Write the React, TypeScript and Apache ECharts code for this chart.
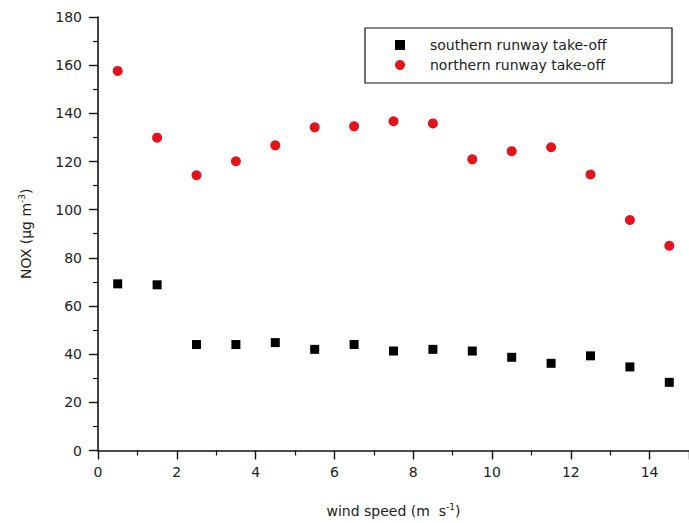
import React, { useEffect, useRef } from "react";
import * as echarts from "echarts";

const windSpeed = [0.5, 1.5, 2.5, 3.5, 4.5, 5.5, 6.5, 7.5, 8.5, 9.5, 10.5, 11.5, 12.5, 13.5, 14.5];
const southern = [69.2, 68.8, 44, 44, 44.8, 42, 44, 41.3, 42, 41.3, 38.7, 36.2, 39.3, 34.7, 28.3];
const northern = [157.6, 129.9, 114.3, 120.1, 126.7, 134.2, 134.6, 136.7, 135.8, 120.9, 124.3, 125.9, 114.6, 95.7, 85];
const seriesNames = ["southern runway take-off", "northern runway take-off"];

const FONT = "DejaVu Sans";

export default function App() {
  const ref = useRef<HTMLDivElement>(null);
  useEffect(() => {
    if (!ref.current) return;
    const chart = echarts.init(ref.current, null, { renderer: "svg" });
    const axisCommon = {
      axisLine: { show: true, lineStyle: { color: "#111", width: 1.6 } },
      axisTick: { show: true, length: 9, lineStyle: { color: "#111", width: 1.4 } },
      minorTick: { show: true, splitNumber: 2, length: 5, lineStyle: { color: "#111", width: 1.2 } },
      splitLine: { show: false },
      axisLabel: { color: "#222", fontFamily: FONT, fontSize: 14 },
      nameTextStyle: {
        color: "#222",
        fontFamily: FONT,
        fontSize: 14,
        rich: {
          sup: { fontSize: 9, verticalAlign: "top", padding: [0, 0, 8, 0], fontFamily: FONT, color: "#222" },
        },
      },
    };
    chart.setOption({
      animation: false,
      backgroundColor: "#fff",
      grid: { left: 98, top: 17, width: 592.5, height: 435.7, containLabel: false },
      xAxis: {
        ...axisCommon,
        type: "value",
        min: 0,
        max: 15,
        interval: 2,
        name: "wind speed (m  s{sup|-1})",
        nameLocation: "middle",
        nameGap: 52,
        axisLabel: { ...axisCommon.axisLabel, margin: 14, showMaxLabel: false },
      },
      yAxis: {
        ...axisCommon,
        type: "value",
        min: 0,
        max: 180,
        interval: 20,
        name: "NOX (μg m{sup|-3})",
        nameLocation: "middle",
        nameGap: 64,
        axisLabel: { ...axisCommon.axisLabel, margin: 16 },
      },
      legend: {
        orient: "vertical",
        left: 390,
        top: 33,
        itemWidth: 10,
        itemHeight: 10,
        itemGap: 6,
        textStyle: { fontFamily: FONT, fontSize: 14, color: "#222", padding: [0, 0, 0, 20] },
        data: seriesNames,
      },
      graphic: [
        {
          type: "rect",
          shape: { x: 365, y: 28, width: 307, height: 55 },
          style: { fill: "none", stroke: "#111", lineWidth: 1.2 },
          z: 10,
        },
      ],
      series: [
        {
          name: seriesNames[0],
          type: "scatter",
          symbol: "rect",
          symbolSize: 9,
          itemStyle: { color: "#000", opacity: 1 },
          data: windSpeed.map((x, i) => [x, southern[i]]),
        },
        {
          name: seriesNames[1],
          type: "scatter",
          symbol: "circle",
          symbolSize: 10,
          itemStyle: { color: "#e3121b", opacity: 1 },
          data: windSpeed.map((x, i) => [x, northern[i]]),
        },
      ],
    });
    return () => chart.dispose();
  }, []);
  return (
    <div
      ref={ref}
      style={{ position: "absolute", left: 0, top: 0, width: 689, height: 523 }}
    />
  );
}
